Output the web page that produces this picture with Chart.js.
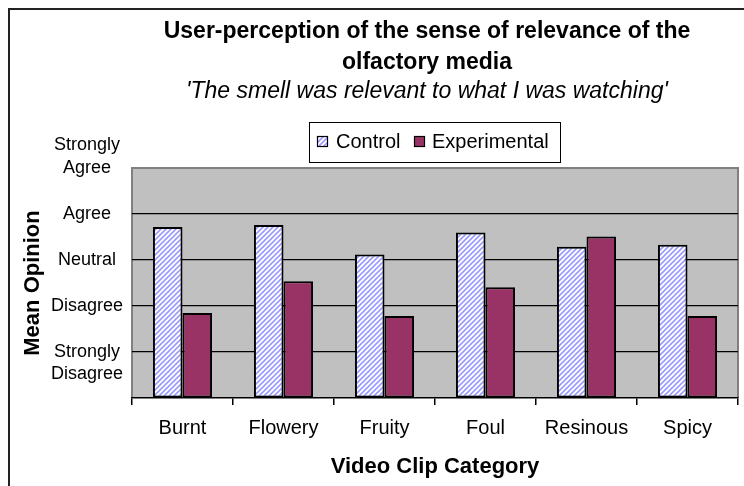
<!DOCTYPE html>
<html><head><meta charset="utf-8">
<script src="https://cdn.jsdelivr.net/npm/chart.js@4.4.0/dist/chart.umd.min.js"></script>
<style>html,body{margin:0;padding:0;background:#fff;}canvas{display:block;}</style>
</head><body>
<canvas id="c" width="744" height="486"></canvas>
<script>
// ---- data ----
const categories = ['Burnt', 'Flowery', 'Fruity', 'Foul', 'Resinous', 'Spicy'];
const controlValues = [3.72, 3.76, 3.12, 3.60, 3.29, 3.33];
const experimentalValues = [1.85, 2.54, 1.78, 2.41, 3.51, 1.78];
const yTickLabels = ['', ['', 'Strongly', 'Disagree'], 'Disagree', 'Neutral', 'Agree', ['Strongly', 'Agree', '']];
const seriesNames = ['Control', 'Experimental'];
const titleLines = ['User-perception of the sense of relevance of the', 'olfactory media'];
const subtitleText = "'The smell was relevant to what I was watching'";
const xTitle = 'Video Clip Category';
const yTitle = 'Mean Opinion';

const FONT = '"Liberation Sans", Arial, sans-serif';
Chart.defaults.font.family = FONT;
Chart.defaults.color = '#000';

function makeStripe() {
  const s = 5;
  const c = document.createElement('canvas');
  c.width = s; c.height = s;
  const x = c.getContext('2d');
  x.fillStyle = '#ffffff'; x.fillRect(0, 0, s, s);
  x.strokeStyle = '#9a9aff'; x.lineWidth = 1.6;
  x.beginPath();
  x.moveTo(-1, s + 1); x.lineTo(s + 1, -1);
  x.moveTo(-1, 1); x.lineTo(1, -1);
  x.moveTo(s - 1, s + 1); x.lineTo(s + 1, s - 1);
  x.stroke();
  return document.getElementById('c').getContext('2d').createPattern(c, 'repeat');
}
const stripe = makeStripe();
const expColor = '#993366';

const decor = {
  id: 'decor',
  beforeDraw(chart) {
    const {ctx, chartArea: a} = chart;
    ctx.save();
    ctx.fillStyle = '#c0c0c0';
    ctx.fillRect(a.left, a.top, a.right - a.left, a.bottom - a.top);
    ctx.strokeStyle = '#808080'; ctx.lineWidth = 2;
    ctx.beginPath();
    ctx.moveTo(a.left, a.bottom); ctx.lineTo(a.left, a.top); ctx.lineTo(a.right, a.top); ctx.lineTo(a.right, a.bottom);
    ctx.stroke();
    ctx.restore();
  },
  afterDraw(chart) {
    const ctx = chart.ctx;
    ctx.save();
    // outer frame
    ctx.strokeStyle = '#222'; ctx.lineWidth = 2;
    ctx.beginPath(); ctx.moveTo(9, 490); ctx.lineTo(9, 9); ctx.lineTo(750, 9); ctx.stroke();
    // titles
    ctx.fillStyle = '#000'; ctx.textAlign = 'center'; ctx.textBaseline = 'middle';
    ctx.font = 'bold 23px ' + FONT;
    ctx.fillText(titleLines[0], 427, 32);
    ctx.fillText(titleLines[1], 427, 63);
    ctx.font = 'italic 23px ' + FONT;
    ctx.fillText(subtitleText, 427, 92);
    // legend
    ctx.fillStyle = '#fff'; ctx.fillRect(309, 122, 251, 40);
    ctx.strokeStyle = '#000'; ctx.lineWidth = 1;
    ctx.strokeRect(309.5, 122.5, 251, 40);
    const items = [{x: 317, tx: 336, fill: stripe}, {x: 414, tx: 432, fill: expColor}];
    ctx.font = '20px ' + FONT; ctx.textAlign = 'left';
    items.forEach((it, i) => {
      ctx.fillStyle = it.fill; ctx.fillRect(it.x, 136, 11, 11);
      ctx.strokeStyle = '#000'; ctx.lineWidth = 1.2; ctx.strokeRect(it.x + 0.5, 136.5, 10, 10);
      ctx.fillStyle = '#000'; ctx.fillText(chart.data.datasets[i].label, it.tx, 142);
    });
    ctx.restore();
  }
};

new Chart(document.getElementById('c'), {
  type: 'bar',
  data: {
    labels: categories,
    datasets: [
      {label: seriesNames[0], data: controlValues, backgroundColor: stripe, borderColor: '#000', borderWidth: 2, borderSkipped: false},
      {label: seriesNames[1], data: experimentalValues, backgroundColor: expColor, borderColor: '#000', borderWidth: 2, borderSkipped: false}
    ]
  },
  options: {
    responsive: false, animation: false, devicePixelRatio: 1,
    layout: {padding: {top: 168, right: 6, left: 0, bottom: 0}},
    datasets: {bar: {categoryPercentage: 0.585, barPercentage: 1.0}},
    plugins: {legend: {display: false}, title: {display: false}, tooltip: {enabled: false}},
    scales: {
      x: {
        grid: {display: true, drawOnChartArea: false, drawTicks: true, tickLength: 7, color: '#000', lineWidth: 1.5, offset: true},
        border: {display: true, color: '#000', width: 1.5},
        ticks: {padding: 11, autoSkip: false, maxRotation: 0, font: {size: 20}, color: '#000'},
        title: {display: true, text: xTitle, font: {size: 22, weight: 'bold'}, padding: {top: 0, bottom: 6}, color: '#000'},
        afterFit(s) { s.height = 88; }
      },
      y: {
        min: 0, max: 5,
        grid: {drawTicks: false, lineWidth: 1.2, color: (c) => (c.tick && (c.tick.value === 0 || c.tick.value === 5)) ? 'rgba(0,0,0,0)' : '#000'},
        border: {display: false},
        ticks: {stepSize: 1, autoSkip: false, crossAlign: 'center', padding: 9, font: {size: 18, lineHeight: 1.25}, color: '#000',
          callback: (v) => yTickLabels[v]},
        title: {display: true, text: yTitle, font: {size: 22, weight: 'bold'}, padding: {top: 20, bottom: 0}, color: '#000'},
        afterFit(s) { s.width = 132; }
      }
    }
  },
  plugins: [decor]
});
</script>
</body></html>
